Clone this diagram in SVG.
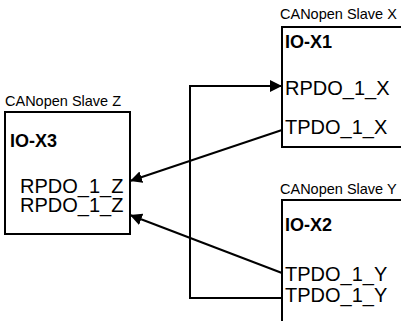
<svg xmlns="http://www.w3.org/2000/svg" width="401" height="321" viewBox="0 0 401 321">
<style>
.box{fill:#fff;stroke:#000;stroke-width:2}
.title{font-family:"Liberation Sans",Arial,sans-serif;font-size:14.5px;fill:#000}
.name{font-family:"Liberation Sans",Arial,sans-serif;font-size:18px;font-weight:bold;fill:#000}
.port{font-family:"Liberation Sans",Arial,sans-serif;font-size:20px;fill:#000}
.conn{fill:none;stroke:#000;stroke-width:2}
</style>
<defs>
<marker id="arr" markerUnits="userSpaceOnUse" markerWidth="14" markerHeight="12" refX="12" refY="6" orient="auto">
<path d="M0,0 L12,6 L0,12 Z" fill="#000"/>
</marker>
</defs>
<rect width="401" height="321" fill="#fff"/>
<g id="slaveZ">
<text class="title" x="5" y="106">CANopen Slave Z</text>
<rect class="box" x="5" y="112" width="125" height="122"/>
<text class="name" x="10" y="147">IO-X3</text>
<text class="port" x="20" y="193">RPDO_1_Z</text>
<text class="port" x="20" y="212">RPDO_1_Z</text>
</g>
<g id="slaveX">
<text class="title" x="280" y="19">CANopen Slave X</text>
<path class="box" d="M410,27 H282 V147 H410"/>
<text class="name" x="285" y="48">IO-X1</text>
<text class="port" x="285" y="95">RPDO_1_X</text>
<text class="port" x="285" y="134">TPDO_1_X</text>
</g>
<g id="slaveY">
<text class="title" x="280" y="194">CANopen Slave Y</text>
<path class="box" d="M410,200 H282 V330"/>
<text class="name" x="285" y="231">IO-X2</text>
<text class="port" x="285" y="281">TPDO_1_Y</text>
<text class="port" x="285" y="302">TPDO_1_Y</text>
</g>
<g id="connectors">
<polyline class="conn" points="282,298 190,298 190,86 282,86" marker-end="url(#arr)"/>
<line class="conn" x1="282" y1="130" x2="130" y2="181" marker-end="url(#arr)"/>
<line class="conn" x1="282" y1="273" x2="130" y2="215" marker-end="url(#arr)"/>
</g>
</svg>
